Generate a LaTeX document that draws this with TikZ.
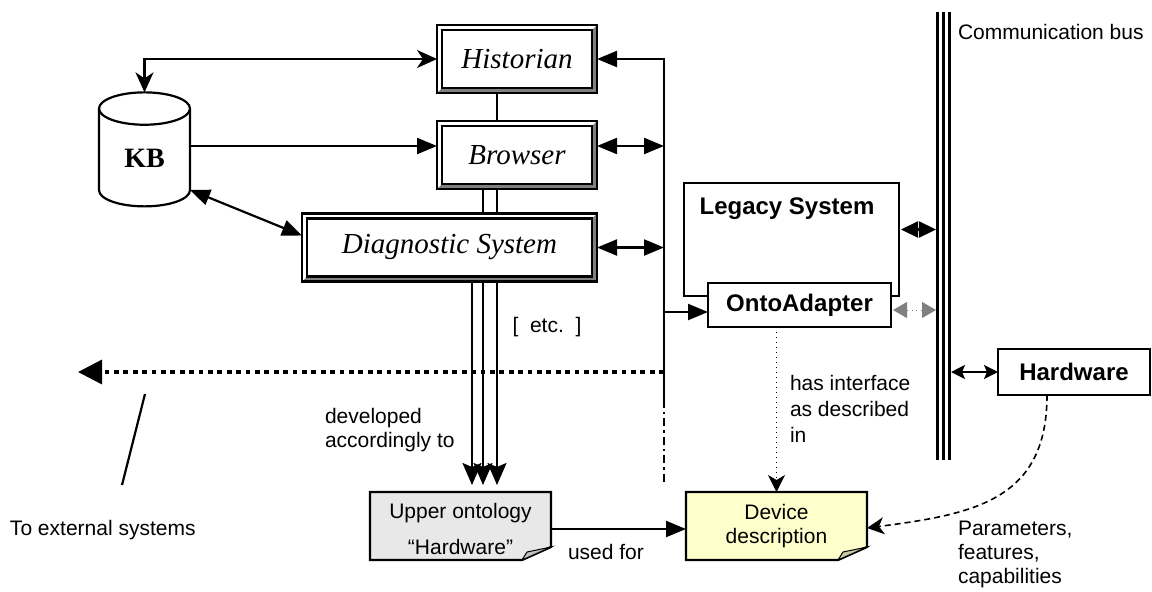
\documentclass[tikz,border=0pt]{standalone}
\usepackage{fontspec}
\setmainfont{Liberation Sans}
\newfontfamily\timesfont{Liberation Serif}
\usetikzlibrary{arrows.meta,shapes.geometric,backgrounds}
\definecolor{notegray}{HTML}{E8E8E8}
\definecolor{noteyellow}{HTML}{FFFFCC}
\definecolor{foldgray}{HTML}{C0C0C0}
\definecolor{foldyellow}{HTML}{C8C8A4}
\newcommand{\tri}{Triangle[length=10pt,width=8pt]}
\newcommand{\barb}{Stealth[length=10pt,width=9pt,inset=3pt]}
\tikzstyle{every node}=[font=\fontsize{10.5}{12}\selectfont, inner sep=0, outer sep=0]
\tikzstyle{every path}=[line width=1.1pt]
\tikzstyle{boldtxt}=[font=\bfseries\fontsize{12}{14}\selectfont]
\tikzstyle{bevel}=[draw, minimum height=34pt, font=\timesfont\itshape\fontsize{14.5}{16}\selectfont,
  path picture={
    \fill[gray] (path picture bounding box.north east) -- (path picture bounding box.south east)
      -- (path picture bounding box.south west) -- ([shift={(2.5pt,2.5pt)}]path picture bounding box.south west)
      -- ([shift={(-2.5pt,2.5pt)}]path picture bounding box.south east)
      -- ([shift={(-2.5pt,-2.5pt)}]path picture bounding box.north east) -- cycle;
    \draw ([shift={(2.5pt,2.5pt)}]path picture bounding box.south west)
      rectangle ([shift={(-2.5pt,-2.5pt)}]path picture bounding box.north east);
  }]
\tikzstyle{note}=[align=center, minimum width=90.5pt, minimum height=34pt]

\begin{document}
\begin{tikzpicture}[x=0.5pt, y=-0.5pt]
    \useasboundingbox (0,0) rectangle (1152,591);
    % modules
    \node[bevel, minimum width=80pt] (historian) at (517,59) {Historian};
    \node[bevel, minimum width=80pt] (browser) at (517,155) {Browser};
    \node[bevel, minimum width=147.5pt] (diag) at (449.5,247.5) {Diagnostic System};
    \node[cylinder, draw, shape border rotate=90, aspect=0.8, minimum width=45.5pt, minimum height=57pt,
      font=\timesfont\bfseries\fontsize{14}{16}\selectfont] (kb) at (144.5,158) {KB};
    \node[draw, minimum width=107.5pt, minimum height=56.5pt] (legacy) at (791.5,239.5) {};
    \node[boldtxt] (legacytxt) at (787,209) {Legacy System};
    \node[draw, fill=white, boldtxt, minimum width=91.5pt, minimum height=22pt] (onto) at (799.5,305) {OntoAdapter};
    \node[draw, boldtxt, minimum width=76pt, minimum height=23pt] (hw) at (1074,372) {Hardware};
    \node[minimum width=7.5pt, minimum height=224pt] (bus) at (943.5,236) {};
    \foreach \dx in {-3,0,3}
        \draw[line width=1.5pt] ([xshift=\dx pt]bus.north) -- ([xshift=\dx pt]bus.south);
    \node[note] (upper) at (460.5,526) {\rule{0pt}{11pt}Upper ontology\\[6pt]“Hardware”};
    \node[note] (device) at (776.5,526) {Device\\description};
    \begin{pgfonlayer}{background}
        \draw[fill=notegray] (upper.north west) -- (upper.north east) -- ([yshift=6.5pt]upper.south east)
          -- ([xshift=-14.5pt]upper.south east) -- (upper.south west) -- cycle;
        \draw[fill=foldgray, line width=0.5pt] ([yshift=6.5pt]upper.south east) -- ([xshift=-14.5pt]upper.south east)
          -- ([shift={(-12pt,4pt)}]upper.south east) -- cycle;
        \draw[fill=noteyellow] (device.north west) -- (device.north east) -- ([yshift=6.5pt]device.south east)
          -- ([xshift=-14.5pt]device.south east) -- (device.south west) -- cycle;
        \draw[fill=foldyellow, line width=0.5pt] ([yshift=6.5pt]device.south east) -- ([xshift=-14.5pt]device.south east)
          -- ([shift={(-12pt,4pt)}]device.south east) -- cycle;
    \end{pgfonlayer}
    % module links
    \draw ([xshift=-10pt]historian.south) -- ([xshift=-10pt]browser.north);
    \draw ([xshift=-10pt]browser.south) -- ([xshift=-10pt]diag.north -| browser.south);
    \draw ([xshift=-17pt]browser.south) -- ([xshift=-17pt]diag.north -| browser.south);
    \draw[{\barb}-{\barb}] (historian.west) -| (kb.north);
    \draw[-{\tri}] (kb.east |- browser.west) ++(0,-9) -- ([yshift=4.5pt]browser.west);
    \draw[{\tri}-{\tri}] (kb.-35) -- ([yshift=6pt]diag.west);
    \foreach \dx in {11.25,16.75,23.75}
        \draw[shorten >=3.5pt, -{Stealth[length=11pt,width=9.5pt,inset=2pt]}] ([xshift=\dx pt]diag.south) -- ([xshift=\dx pt]diag.south |- upper.north);
    % right hand link
    \coordinate (solidend) at (664,400);
    \coordinate (dashend) at (664,482);
    \coordinate (ext) at (78,372);
    \draw[{\tri}-] (historian.east) -| (solidend);
    \draw[dash pattern=on 4pt off 2pt on 1.2pt off 2pt] (solidend) -- (dashend);
    \draw[{\tri}-{\tri}] ([yshift=4.5pt]browser.east) -- ([yshift=4.5pt]browser.east -| solidend);
    \draw[{\tri}-{\tri}] (diag.east) -- (diag.east -| solidend);
    \draw[-{\tri}] (solidend |- onto.west) ++(0,7) -- ([yshift=-3.5pt]onto.west);
    \draw[line width=1.7pt, dash pattern=on 2.4pt off 2.3pt, -{Triangle[length=12pt,width=12pt]}] (solidend |- ext) -- (ext);
    % bus links
    \draw[{Triangle[length=8.5pt,width=8pt]}-{Triangle[length=8.5pt,width=8pt]}] ([shift={(1pt,5pt)}]legacy.east) -- ([yshift=5pt]bus.west |- legacy.east);
    \draw[gray, line width=0.4pt, dotted, {Triangle[length=7pt,width=8pt,gray]}-{Triangle[length=7pt,width=8pt,gray]}]
      ([xshift=1pt,yshift=-2.5pt]onto.east) -- ([yshift=-2.5pt]bus.west |- onto.east);
    \draw[{Stealth[length=7pt,width=7pt,inset=1.5pt]}-{Stealth[length=7pt,width=7pt,inset=1.5pt]}] (bus.east |- hw.west) -- (hw.west);
    % descriptions
    \draw[-{\tri}] (upper.east) ++(0,3) -- ([yshift=-1.5pt]device.west);
    \draw[line width=0.5pt, dotted, -{Stealth[length=8.5pt,width=8.5pt,inset=2.5pt]}] (device.north |- onto.south) -- (device.north);
    \draw[line width=0.8pt, dash pattern=on 3pt off 2pt, -{Stealth[length=8.5pt,width=8.5pt,inset=2.5pt]}] ([xshift=-13.5pt]hw.south) .. controls (1047,500) and (975,514) .. ([yshift=-1pt]device.east);
    % labels
    \coordinate (ptrtop) at (145,394);
    \coordinate (ptrbot) at (122,485);
    \draw (ptrtop) -- (ptrbot);
    \node[anchor=west] (extlabel) at (10,530) {To external systems};
    \node[anchor=west] (buslabel) at (958,32) {Communication bus};
    \node[anchor=west, align=left] (devlabel) at (325,430) {developed\\accordingly to};
    \node (etclabel) at (547,327) {[\ \ etc.\ \ ]};
    \node (usedlabel) at (606,552) {used for};
    \node[anchor=west, align=left] (iflabel) at (790,409) {has interface\\[1pt]as described\\[1pt]in};
    \node[anchor=west, align=left] (paramlabel) at (958,554) {Parameters,\\features,\\capabilities};
\end{tikzpicture}
\end{document}
